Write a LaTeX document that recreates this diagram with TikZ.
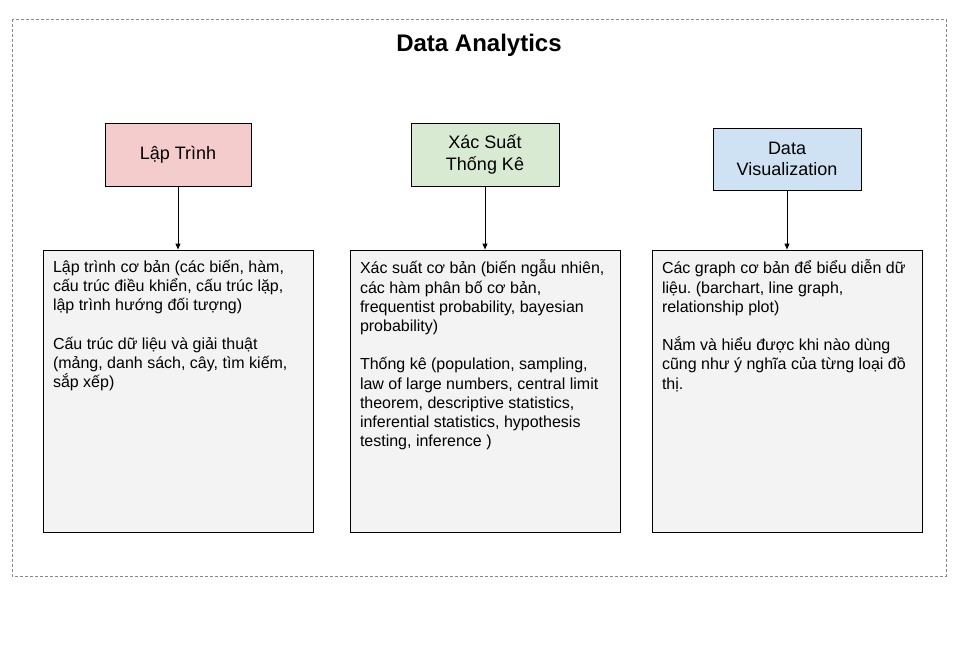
\documentclass[tikz,border=0pt]{standalone}
\usepackage{fontspec}
\setmainfont{Liberation Sans}
\usetikzlibrary{arrows.meta}
\definecolor{pinkfill}{HTML}{F4CCCC}
\definecolor{greenfill}{HTML}{D9EAD3}
\definecolor{bluefill}{HTML}{CFE2F3}
\definecolor{grayfill}{HTML}{F3F3F3}
\definecolor{framegray}{HTML}{888888}
\frenchspacing
\newcommand\fixedlines{\lineskiplimit=-100pt\relax}
\begin{document}
\begin{tikzpicture}[x=1pt,y=-1pt,line width=1pt,
   headbox/.style={draw,minimum width=146pt,minimum height=63pt,align=center,
     font=\fontsize{18}{21.6}\selectfont},
   bodybox/.style={draw,fill=grayfill,minimum width=270pt,minimum height=282pt},
   bodytext/.style={anchor=north west,inner sep=0pt,align=left,
     font=\fontsize{16}{19.2}\selectfont\fixedlines,
     execute at begin node={\rule{0pt}{22pt}}},
   ->,>={Triangle[length=6pt,width=5pt]}]
   \useasboundingbox (0,0) rectangle (960,648);
   \draw[framegray,dash pattern=on 3pt off 2pt,-] (12,19) rectangle (946,576);
   \node[anchor=base,font=\fontsize{24}{28}\selectfont\bfseries] (title) at (479,51) {Data Analytics};

   \node[headbox,fill=pinkfill] (h1) at (178,154.5) {Lập Trình};
   \node[headbox,fill=greenfill,minimum width=148pt] (h2) at (485,154.5) {Xác Suất\\Thống Kê};
   \node[headbox,fill=bluefill,minimum width=148pt,minimum height=62pt] (h3) at (787,159) {Data\\Visualization};

   \node[bodybox] (b1) at (178,391) {};
   \node[bodybox] (b2) at (485,391) {};
   \node[bodybox] (b3) at (787,391) {};

   \node[bodytext] (t1) at ([shift={(10,10)}]b1.north west) {Lập trình cơ bản (các biến, hàm,\\
     cấu trúc điều khiển, cấu trúc lặp,\\lập trình hướng đối tượng)\\[19.2pt]
     Cấu trúc dữ liệu và giải thuật\\(mảng, danh sách, cây, tìm kiếm,\\sắp xếp)};
   \node[bodytext] (t2) at ([shift={(10,10)}]b2.north west) {Xác suất cơ bản (biến ngẫu nhiên,\\
     các hàm phân bố cơ bản,\\frequentist probability, bayesian\\probability)\\[19.2pt]
     Thống kê (population, sampling,\\law of large numbers, central limit\\
     theorem, descriptive statistics,\\inferential statistics, hypothesis\\testing, inference )};
   \node[bodytext] (t3) at ([shift={(10,10)}]b3.north west) {Các graph cơ bản để biểu diễn dữ\\
     liệu. (barchart, line graph,\\relationship plot)\\[19.2pt]
     Nắm và hiểu được khi nào dùng\\cũng như ý nghĩa của từng loại đồ\\thị.};

   \path (h1) edge (b1);
   \path (h2) edge (b2);
   \path (h3) edge (b3);
\end{tikzpicture}
\end{document}
